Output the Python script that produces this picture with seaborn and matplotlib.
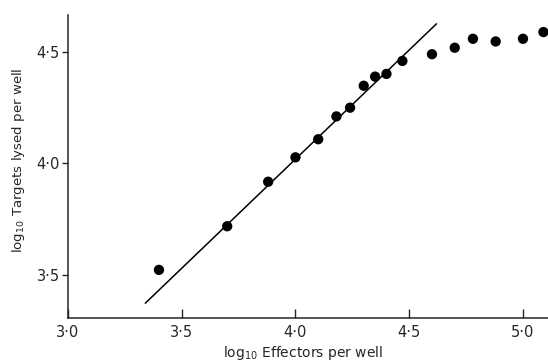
import matplotlib
matplotlib.use("Agg")
import matplotlib.pyplot as plt
import seaborn as sns
import pandas as pd

# 데이터
log_effectors = [3.40, 3.70, 3.88, 4.00, 4.10, 4.18, 4.24, 4.30, 4.35, 4.40, 4.47,
                 4.60, 4.70, 4.78, 4.88, 5.00, 5.09]
log_targets = [3.524, 3.719, 3.918, 4.027, 4.108, 4.210, 4.249, 4.347, 4.388, 4.400, 4.458,
               4.488, 4.517, 4.557, 4.545, 4.557, 4.587]
fit_x = [3.34, 4.62]
fit_y = [3.375, 4.624]

x_ticks = [3.0, 3.5, 4.0, 4.5, 5.0]
y_ticks = [3.5, 4.0, 4.5]

df = pd.DataFrame({'x': log_effectors, 'y': log_targets})
fit = pd.DataFrame({'x': fit_x, 'y': fit_y})

sns.set_style("ticks")
plt.rcParams['font.family'] = ['DejaVu Sans']

fig = plt.figure(figsize=(5.48, 3.62), dpi=100)
ax = fig.add_axes([0.124, 0.121, 0.876, 0.838])

sns.lineplot(data=fit, x='x', y='y', color='black', linewidth=1.1, ax=ax)
sns.scatterplot(data=df, x='x', y='y', color='black', s=55, edgecolor='none', ax=ax, zorder=3)

ax.set_xlim(3.0, 5.11)
ax.set_ylim(3.308, 4.664)
ax.set_xticks(x_ticks)
ax.set_yticks(y_ticks)
ax.set_xticklabels([f'{v:.1f}'.replace('.', '·') for v in x_ticks])
ax.set_yticklabels([f'{v:.1f}'.replace('.', '·') for v in y_ticks])

sns.despine(ax=ax)
for sp in ['left', 'bottom']:
    ax.spines[sp].set_linewidth(1.1)
ax.tick_params(axis='x', direction='in', length=6.5, width=1.0, pad=5, labelsize=10.5)
ax.tick_params(axis='y', direction='out', length=4, width=1.0, pad=2, labelsize=10.5)

ax.set_xlabel(r'log$_{10}$ Effectors per well', fontsize=10)
ax.xaxis.set_label_coords(0.49, -0.085)
ax.set_ylabel(r'log$_{10}$ Targets lysed per well', fontsize=9.6)
ax.yaxis.set_label_coords(-0.085, 0.52)

fig.savefig('out.png', dpi=100)
